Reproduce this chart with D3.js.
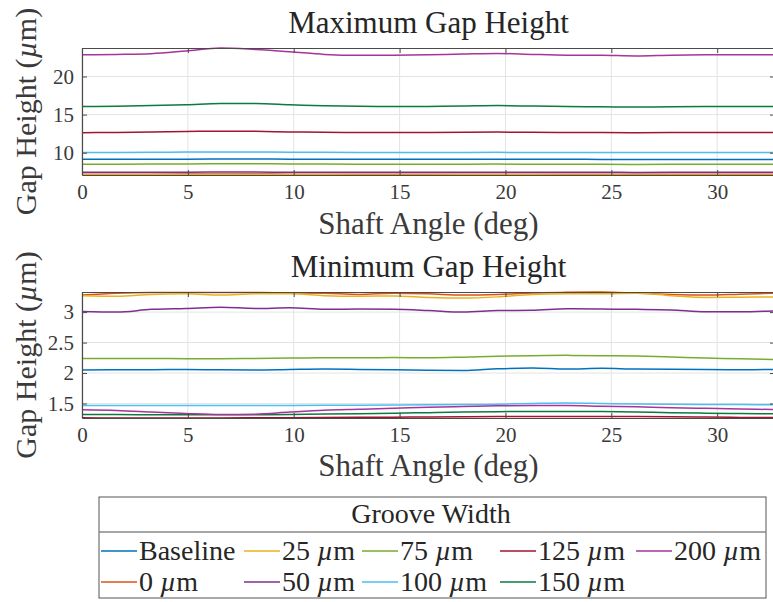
<!DOCTYPE html>
<html><head><meta charset="utf-8">
<script src="https://cdn.jsdelivr.net/npm/d3@7"></script>
<style>body{margin:0;background:#fff}svg{display:block}text{font-family:"Liberation Serif","Times New Roman",serif}</style>
</head><body><svg id="c" width="773" height="602"></svg>
<script>
const angles = [0, 1.64, 3.27, 4.91, 6.55, 8.18, 9.82, 11.45, 13.09, 14.73, 16.36, 18.0, 19.64, 21.27, 22.91, 24.55, 26.18, 27.82, 29.45, 31.09, 32.73];
const seriesNames = ["Baseline", "0 µm", "25 µm", "50 µm", "75 µm", "100 µm", "125 µm", "150 µm", "200 µm"];
const seriesColors = ["#0072BD", "#D95319", "#EDB120", "#7E2F8E", "#77AC30", "#4DBEEE", "#A2142F", "#0B7A3E", "#A8339B"];

// Maximum gap height (µm)
const maxBaseline = [9.13, 9.13, 9.14, 9.15, 9.17, 9.16, 9.15, 9.14, 9.13, 9.13, 9.13, 9.13, 9.14, 9.13, 9.13, 9.12, 9.12, 9.12, 9.11, 9.1, 9.1];
const max0   = [7.17, 7.17, 7.18, 7.19, 7.2, 7.19, 7.18, 7.17, 7.17, 7.17, 7.17, 7.17, 7.18, 7.17, 7.17, 7.17, 7.16, 7.17, 7.17, 7.17, 7.17];
const max25  = [7.1, 7.1, 7.1, 7.11, 7.12, 7.11, 7.1, 7.09, 7.08, 7.08, 7.08, 7.09, 7.1, 7.09, 7.08, 7.08, 7.07, 7.08, 7.08, 7.08, 7.08];
const max50  = [7.42, 7.42, 7.43, 7.44, 7.46, 7.45, 7.44, 7.43, 7.42, 7.42, 7.42, 7.42, 7.43, 7.42, 7.42, 7.42, 7.41, 7.42, 7.42, 7.42, 7.42];
const max75  = [8.47, 8.48, 8.5, 8.53, 8.56, 8.55, 8.52, 8.5, 8.48, 8.47, 8.48, 8.49, 8.5, 8.49, 8.48, 8.47, 8.46, 8.47, 8.47, 8.47, 8.47];
const max100 = [10.02, 10.03, 10.05, 10.08, 10.1, 10.09, 10.06, 10.04, 10.03, 10.02, 10.02, 10.03, 10.04, 10.03, 10.02, 10.02, 10.01, 10.02, 10.02, 10.02, 10.02];
const max125 = [12.63, 12.65, 12.7, 12.78, 12.82, 12.8, 12.72, 12.68, 12.65, 12.65, 12.66, 12.68, 12.7, 12.68, 12.65, 12.64, 12.63, 12.64, 12.65, 12.65, 12.65];
const max150 = [16.05, 16.1, 16.2, 16.3, 16.45, 16.45, 16.3, 16.15, 16.08, 16.05, 16.07, 16.12, 16.18, 16.12, 16.05, 16.02, 15.98, 16.02, 16.05, 16.05, 16.05];
const max200 = [22.85, 22.9, 23.0, 23.35, 23.74, 23.55, 23.25, 22.9, 22.78, 22.8, 22.85, 22.95, 23.03, 22.9, 22.8, 22.78, 22.7, 22.8, 22.84, 22.84, 22.86];

// Minimum gap height (µm)
const minBaseline = [2.05, 2.055, 2.055, 2.058, 2.052, 2.05, 2.058, 2.065, 2.06, 2.055, 2.045, 2.04, 2.07, 2.082, 2.065, 2.078, 2.065, 2.062, 2.058, 2.055, 2.058];
const min0   = [3.28, 3.31, 3.32, 3.32, 3.32, 3.32, 3.315, 3.31, 3.29, 3.31, 3.3, 3.28, 3.29, 3.315, 3.325, 3.33, 3.31, 3.29, 3.28, 3.295, 3.31];
const min25  = [3.27, 3.26, 3.29, 3.3, 3.28, 3.3, 3.3, 3.27, 3.26, 3.265, 3.24, 3.23, 3.25, 3.29, 3.3, 3.3, 3.31, 3.27, 3.24, 3.245, 3.25];
const min50  = [3.01, 3.0, 3.045, 3.06, 3.08, 3.06, 3.07, 3.045, 3.05, 3.045, 3.025, 3.0, 3.025, 3.03, 3.055, 3.05, 3.045, 3.035, 3.005, 3.005, 3.02];
const min75  = [2.24, 2.24, 2.24, 2.235, 2.235, 2.24, 2.245, 2.25, 2.25, 2.255, 2.25, 2.26, 2.275, 2.285, 2.29, 2.285, 2.28, 2.265, 2.245, 2.235, 2.22];
const min100 = [1.467, 1.467, 1.467, 1.467, 1.467, 1.467, 1.468, 1.47, 1.472, 1.475, 1.478, 1.482, 1.488, 1.5, 1.508, 1.5, 1.492, 1.488, 1.485, 1.482, 1.48];
const min125 = [1.265, 1.263, 1.262, 1.262, 1.263, 1.265, 1.267, 1.27, 1.273, 1.276, 1.279, 1.282, 1.285, 1.287, 1.288, 1.287, 1.285, 1.282, 1.278, 1.272, 1.268];
const min150 = [1.318, 1.318, 1.316, 1.315, 1.315, 1.316, 1.32, 1.326, 1.332, 1.34, 1.35, 1.36, 1.366, 1.37, 1.37, 1.368, 1.362, 1.35, 1.342, 1.335, 1.33];
const min200 = [1.397, 1.385, 1.36, 1.335, 1.318, 1.325, 1.36, 1.39, 1.405, 1.42, 1.44, 1.45, 1.462, 1.468, 1.468, 1.455, 1.445, 1.43, 1.42, 1.41, 1.40];

const xTicks = [0, 5, 10, 15, 20, 25, 30];
const maxYTicks = [10, 15, 20];
const minYTicks = [1.5, 2, 2.5, 3];
const legendTitle = "Groove Width";

const maxSeries = [maxBaseline, max0, max25, max50, max75, max100, max125, max150, max200];
const minSeries = [minBaseline, min0, min25, min50, min75, min100, min125, min150, min200];

const svg = d3.select("#c");
const axisColor = "#4a4a4a", gridColor = "#e3e3e3", textColor = "#262626";

function mu(sel, str) {
  const parts = str.split("µ");
  parts.forEach((p, i) => {
    if (i > 0) sel.append("tspan").attr("font-style", "italic").text("µ");
    if (p) sel.append("tspan").text(p);
  });
}

function panel(cfg) {
  const {left, right, top, bottom, data, yTicks, title, titleY, xLabelY, yFmt, id} = cfg;
  const x = d3.scaleLinear().domain(d3.extent(angles)).range([left, right]);
  const all = data.flat();
  const y = d3.scaleLinear().domain(d3.extent(all)).range([bottom, top]);
  const g = svg.append("g");
  g.append("g").selectAll("line").data(xTicks).join("line")
    .attr("x1", d => x(d)).attr("x2", d => x(d)).attr("y1", top).attr("y2", bottom)
    .attr("stroke", gridColor).attr("stroke-width", 1);
  g.append("g").selectAll("line").data(yTicks).join("line")
    .attr("y1", d => y(d)).attr("y2", d => y(d)).attr("x1", left).attr("x2", right)
    .attr("stroke", gridColor).attr("stroke-width", 1);
  svg.append("clipPath").attr("id", id).append("rect")
    .attr("x", left).attr("y", top - 1).attr("width", right - left).attr("height", bottom - top + 2);
  const line = d3.line().x((d, i) => x(angles[i])).y(d => y(d)).curve(d3.curveMonotoneX);
  g.append("g").attr("clip-path", `url(#${id})`).selectAll("path").data(data).join("path")
    .attr("d", d => line(d)).attr("fill", "none")
    .attr("stroke", (d, i) => seriesColors[i]).attr("stroke-width", 1.5);
  const tl = 5;
  const axB = d3.axisBottom(x).tickValues(xTicks).tickSizeInner(-tl).tickSizeOuter(0).tickPadding(9).tickFormat(d3.format("d"));
  const axT = d3.axisTop(x).tickValues(xTicks).tickSizeInner(-tl).tickSizeOuter(0).tickFormat("");
  const axL = d3.axisLeft(y).tickValues(yTicks).tickSizeInner(-tl).tickSizeOuter(0).tickPadding(8).tickFormat(yFmt);
  const axR = d3.axisRight(y).tickValues(yTicks).tickSizeInner(-tl).tickSizeOuter(0).tickFormat("");
  [[axB, `translate(0,${bottom})`], [axT, `translate(0,${top})`], [axL, `translate(${left},0)`], [axR, `translate(${right},0)`]].forEach(([ax, tr]) => {
    const a = g.append("g").attr("transform", tr).call(ax);
    a.select(".domain").attr("stroke", axisColor).attr("stroke-width", 1.2);
    a.selectAll(".tick line").attr("stroke", axisColor).attr("stroke-width", 1);
    a.selectAll(".tick text").attr("fill", "#3a3a3a").attr("font-size", 21)
      .attr("font-family", '"Liberation Serif", serif');
  });
  g.append("text").attr("x", (left + right) / 2).attr("y", titleY).attr("text-anchor", "middle")
    .attr("font-size", 31).attr("fill", textColor).text(title);
  g.append("text").attr("x", (left + right) / 2).attr("y", xLabelY).attr("text-anchor", "middle")
    .attr("font-size", 31).attr("fill", "#3a3a3a").text("Shaft Angle (deg)");
  const yl = g.append("text").attr("transform", `translate(36,${(top + bottom) / 2}) rotate(-90)`)
    .attr("text-anchor", "middle").attr("font-size", 30).attr("fill", "#3a3a3a");
  mu(yl, "Gap Height (µm)");
}

panel({left: 82, right: 775, top: 48, bottom: 175, data: maxSeries, yTicks: maxYTicks,
  title: "Maximum Gap Height", titleY: 33, xLabelY: 234, yFmt: d3.format("d"), id: "clipA"});
panel({left: 82, right: 775, top: 292, bottom: 418, data: minSeries, yTicks: minYTicks,
  title: "Minimum Gap Height", titleY: 277, xLabelY: 476, yFmt: d => String(d), id: "clipB"});

const lg = svg.append("g");
const lx0 = 99, lx1 = 766, ly0 = 497, ly1 = 598, lsep = 532;
lg.append("rect").attr("x", lx0).attr("y", ly0).attr("width", lx1 - lx0).attr("height", ly1 - ly0)
  .attr("fill", "#fff").attr("stroke", "#555").attr("stroke-width", 1);
lg.append("line").attr("x1", lx0).attr("x2", lx1).attr("y1", lsep).attr("y2", lsep)
  .attr("stroke", "#888").attr("stroke-width", 1.5);
lg.append("text").attr("x", 431).attr("y", 523).attr("text-anchor", "middle")
  .attr("font-size", 28).attr("fill", textColor).text(legendTitle);
const colX = [101, 244, 362, 500, 636];
const rowY = [551, 582];
seriesNames.forEach((name, i) => {
  const c = Math.floor(i / 2), r = i % 2;
  const x0 = colX[c], yy = rowY[r];
  lg.append("line").attr("x1", x0).attr("x2", x0 + 36).attr("y1", yy).attr("y2", yy)
    .attr("stroke", seriesColors[i]).attr("stroke-width", 1.5);
  const t = lg.append("text").attr("x", x0 + 38).attr("y", yy + 9).attr("font-size", 28).attr("fill", textColor);
  mu(t, name);
});
</script></body></html>
